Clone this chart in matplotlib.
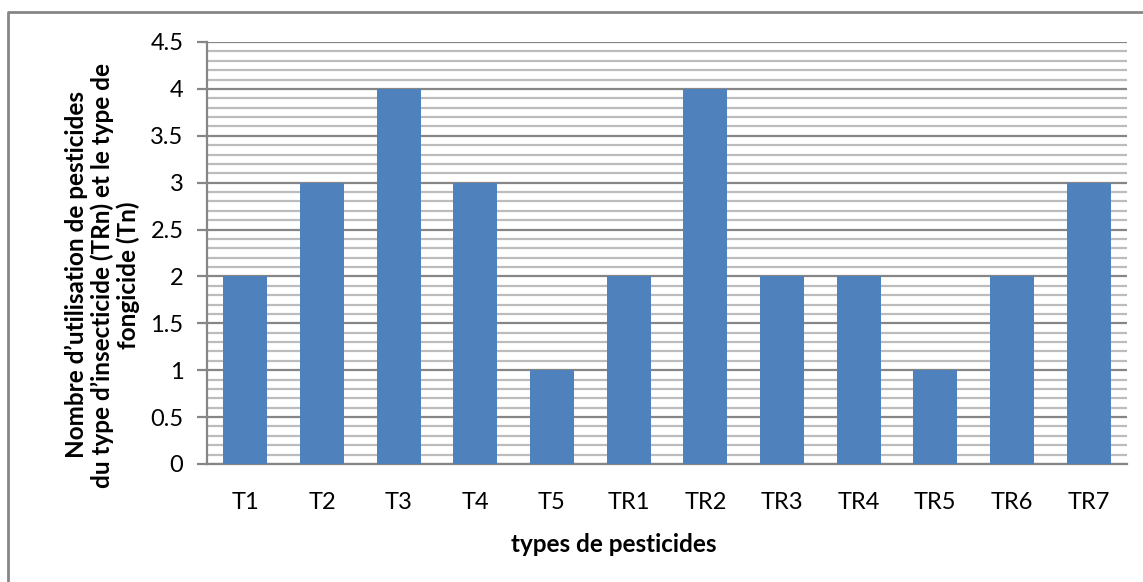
import matplotlib
matplotlib.use("Agg")
import matplotlib.pyplot as plt
from matplotlib.lines import Line2D
from matplotlib.ticker import MultipleLocator

# data
categories = ["T1", "T2", "T3", "T4", "T5", "TR1", "TR2", "TR3", "TR4", "TR5", "TR6", "TR7"]
counts = [2, 3, 4, 3, 1, 2, 4, 2, 2, 1, 2, 3]
ytick_labels = ["0", "0.5", "1", "1.5", "2", "2.5", "3", "3.5", "4", "4.5"]

x_title = "types de pesticides"
y_title = ("Nombre d\u2019utilisation de pesticides\n"
           "du type d\u2019insecticide (TRn) et le type de\n"
           "fongicide (Tn)")

plt.rcParams['font.family'] = ['Lato', 'DejaVu Sans']

W, H = 1143, 582
fig = plt.figure(figsize=(W / 100, H / 100), dpi=100)
ax = fig.add_axes([207 / W, 1 - 464 / H, (1127 - 207) / W, (464 - 42) / H])

bar_color = "#4f81bd"
grid_major = "#868686"
grid_minor = "#bcbcbc"

xpos = list(range(len(categories)))
ax.bar(xpos, counts, width=0.575, color=bar_color, zorder=3)

ax.set_xlim(-0.5, len(categories) - 0.5)
ax.set_ylim(0, 4.5)
ax.yaxis.set_minor_locator(MultipleLocator(0.1))
ax.set_yticks([i * 0.5 for i in range(len(ytick_labels))])
ax.set_yticklabels(ytick_labels)

ax.grid(which="major", axis="y", color=grid_major, linewidth=1.6, zorder=1)
ax.grid(which="minor", axis="y", color=grid_minor, linewidth=1.6, zorder=0)
ax.set_axisbelow(True)

ax.set_xticks(xpos)
ax.set_xticklabels(categories)

for side in ["top", "right"]:
    ax.spines[side].set_visible(False)
for side in ["left", "bottom"]:
    ax.spines[side].set_color(grid_major)
    ax.spines[side].set_linewidth(1.6)

ax.tick_params(axis="y", which="major", length=7, width=1.6, color=grid_major,
               labelsize=17, pad=10)
ax.tick_params(axis="y", which="minor", length=0)
ax.tick_params(axis="x", length=0, labelsize=17, pad=20)

# axis titles placed where the reference has them
fig.text(614 / W, 1 - 544 / H, x_title, ha="center", va="center",
         fontsize=17.5, fontweight="bold")
fig.text(102 / W, 1 - 275 / H, y_title, rotation=90, ha="center", va="center",
         multialignment="center", fontsize=17.5, fontweight="bold", linespacing=1.12)

# chart frame (only top and left edges are visible in the crop)
fig.add_artist(Line2D([8 / W, 8 / W, 1], [0, 1 - 12 / H, 1 - 12 / H],
                      transform=fig.transFigure, color=grid_major, linewidth=2))

fig.savefig("out.png", dpi=100)
